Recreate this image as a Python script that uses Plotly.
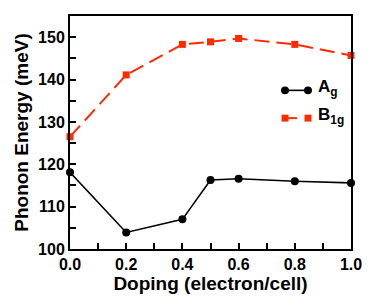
import plotly.graph_objects as go

doping = [0.0, 0.2, 0.4, 0.5, 0.6, 0.8, 1.0]
ag_values = [118.1, 103.9, 107.0, 116.3, 116.6, 116.0, 115.6]
b1g_values = [126.5, 141.1, 148.3, 148.9, 149.7, 148.3, 145.7]
x_ticks = [0.0, 0.2, 0.4, 0.6, 0.8, 1.0]
x_ticklabels = ["0.0", "0.2", "0.4", "0.6", "0.8", "1.0"]
y_ticks = [100, 110, 120, 130, 140, 150]
series_names = ["A<sub>g</sub>", "B<sub>1g</sub>"]

red = "#ff2a00"
FONT = "Liberation Sans, Arial, sans-serif"

# plot area in window pixels (page body adds 8px offset)
PL, PR, PT, PB = 70, 351, 14, 249


def px(xp):
    return (xp - PL) / (PR - PL)


def py(yp):
    return (PB - yp) / (PB - PT)


fig = go.Figure()
fig.add_trace(go.Scatter(x=doping, y=ag_values, mode="lines+markers", name=series_names[0],
                         line=dict(color="black", width=1.6),
                         marker=dict(symbol="circle", size=8, color="black"),
                         cliponaxis=False, showlegend=False))
fig.add_trace(go.Scatter(x=doping, y=b1g_values, mode="lines+markers", name=series_names[1],
                         line=dict(color=red, width=2, dash="15px,7px"),
                         marker=dict(symbol="square", size=7, color=red),
                         cliponaxis=False, showlegend=False))

# custom legend keys
shapes = []
ly1, ly2 = 89, 117
shapes.append(dict(type="line", xref="paper", yref="paper", x0=px(285), x1=px(308), y0=py(ly1), y1=py(ly1),
                   line=dict(color="black", width=1.6)))
for cx in (285, 308):
    shapes.append(dict(type="circle", xref="paper", yref="paper", x0=px(cx - 4), x1=px(cx + 4),
                       y0=py(ly1 + 4), y1=py(ly1 - 4), fillcolor="black", line=dict(color="black", width=0)))
shapes.append(dict(type="line", xref="paper", yref="paper", x0=px(285), x1=px(297), y0=py(ly2), y1=py(ly2),
                   line=dict(color=red, width=2)))
for cx in (285, 308):
    shapes.append(dict(type="rect", xref="paper", yref="paper", x0=px(cx - 3.5), x1=px(cx + 3.5),
                       y0=py(ly2 + 3.5), y1=py(ly2 - 3.5), fillcolor=red, line=dict(color=red, width=0)))

annotations = [
    dict(xref="paper", yref="paper", x=px(316), y=py(ly1 - 2), xanchor="left", yanchor="middle",
         text="<b>" + series_names[0] + "</b>", showarrow=False, font=dict(size=17, family=FONT, color="black")),
    dict(xref="paper", yref="paper", x=px(316), y=py(ly2 - 2), xanchor="left", yanchor="middle",
         text="<b>" + series_names[1] + "</b>", showarrow=False, font=dict(size=17, family=FONT, color="black")),
]

fig.update_layout(
    width=366, height=291,
    margin=dict(l=62, r=23, t=6, b=50),
    paper_bgcolor="white", plot_bgcolor="white",
    font=dict(family=FONT, color="black", size=16),
    showlegend=False,
    shapes=shapes, annotations=annotations,
    xaxis=dict(range=[0, 1.0], tickvals=x_ticks, ticktext=["<b>%s</b>" % t for t in x_ticklabels],
               ticks="inside", ticklen=6, tickwidth=1.5, tickcolor="black",
               minor=dict(dtick=0.1, tick0=0, ticks="inside", ticklen=6, tickwidth=1.5, tickcolor="black"),
               showline=True, linecolor="black", linewidth=2, mirror=True, showgrid=False, zeroline=False,
               tickfont=dict(size=16), title=dict(text="<b>Doping (electron/cell)</b>", font=dict(size=19), standoff=2)),
    yaxis=dict(range=[100, 155], tickvals=y_ticks, ticktext=["<b>%d</b>" % v for v in y_ticks],
               ticks="inside", ticklen=6, tickwidth=1.5, tickcolor="black",
               minor=dict(dtick=5, tick0=100, ticks="inside", ticklen=6, tickwidth=1.5, tickcolor="black"),
               showline=True, linecolor="black", linewidth=2, mirror=True, showgrid=False, zeroline=False,
               tickfont=dict(size=16), title=dict(text="<b>Phonon Energy (meV)</b>", font=dict(size=19), standoff=4)),
)
fig.write_html("out.html")
